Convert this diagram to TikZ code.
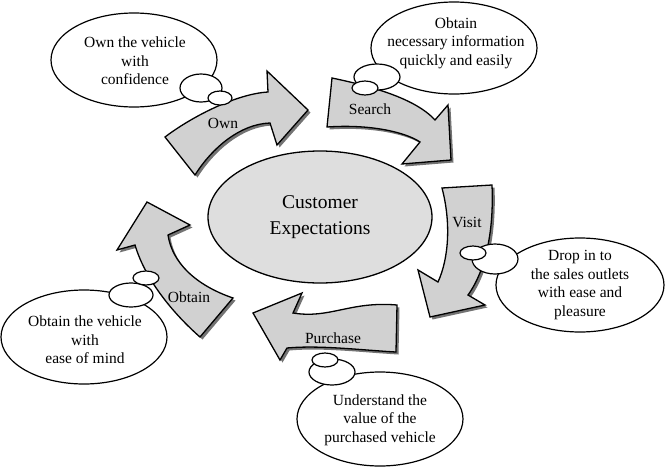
\documentclass[tikz,border=0pt]{standalone}
\usepackage{fontspec}
\setmainfont{Liberation Serif}
\usepackage{tikz}
\usetikzlibrary{shapes.geometric, shadows}
\definecolor{arrowgray}{gray}{0.82}
\definecolor{hubgray}{gray}{0.87}
\definecolor{shadowgray}{gray}{0.45}

\begin{document}
\begin{tikzpicture}[x=1pt, y=-1pt,
    bubble/.style={draw, line width=1.2pt, fill=white},
    bubtext/.style={align=center, inner sep=0pt, font=\fontsize{15.5}{18.5}\selectfont},
    flow/.style={draw, line width=1.3pt, fill=arrowgray, line join=miter,
                 drop shadow={shadow xshift=2.5pt, shadow yshift=-2.5pt,
                              fill=shadowgray, opacity=1}},
    lbl/.style={inner sep=0pt, font=\fontsize{15.5}{17}\selectfont}]
  \useasboundingbox (0,0) rectangle (665,469);

  % Own arrow (bottom left to top)
  \path[flow] (165,137) .. controls (190,118) and (235,94) .. (268,92)
    -- (267,71) -- (308,110) -- (277,145) -- (270,123)
    .. controls (240,124) and (212,148) .. (195,175) -- cycle;
  % Search arrow
  \path[flow] (332,78) .. controls (370,86) and (415,98) .. (435,120)
    -- (448,105) -- (451,160) -- (402,164) -- (420,142)
    .. controls (405,132) and (370,124) .. (327,127) -- cycle;
  % Visit arrow
  \path[flow] (442,188) -- (492,185)
    .. controls (494,230) and (486,270) .. (468,295)
    -- (485,305) -- (430,317) -- (418,270) -- (438,282)
    .. controls (449,258) and (451,222) .. (442,188) -- cycle;
  % Purchase arrow
  \path[flow] (397,305) .. controls (350,301) and (330,319) .. (293,313)
    -- (302,293) -- (253,313) -- (280,360) -- (287,348)
    .. controls (320,345) and (360,350) .. (396,352) -- cycle;
  % Obtain arrow
  \path[flow] (200,337) .. controls (176,316) and (146,282) .. (135,245)
    -- (117,250) -- (147,202) -- (190,225) -- (168,235)
    .. controls (172,262) and (195,285) .. (233,298) -- cycle;

  % Arrow labels
  \node[lbl] (ownlbl) at (223,123) {Own};
  \node[lbl] (searchlbl) at (370,109) {Search};
  \node[lbl] (visitlbl) at (467,222) {Visit};
  \node[lbl] (purchaselbl) at (333,338) {Purchase};
  \node[lbl] (obtainlbl) at (189,297) {Obtain};

  % Centre
  \node[draw, ellipse, line width=1.3pt, fill=hubgray, minimum width=224pt,
        minimum height=132pt, align=center,
        font=\fontsize{19.5}{26}\selectfont] (hub) at (320,217)
        {Customer\\Expectations};

  % Thought bubbles
  \draw[bubble] (134,60) ellipse [x radius=83, y radius=47];
  \draw[bubble] (201,88) ellipse [x radius=21, y radius=14];
  \draw[bubble] (220,98) ellipse [x radius=12, y radius=7];
  \node[bubtext] (own) at (135,61) {Own the vehicle\\with\\confidence};

  \draw[bubble] (454,48) ellipse [x radius=83, y radius=46];
  \draw[bubble] (377,77) ellipse [x radius=23, y radius=13];
  \draw[bubble] (365,88) ellipse [x radius=13, y radius=7];
  \node[bubtext] (search) at (456,43) {Obtain\\necessary information\\quickly and easily};

  \draw[bubble] (580,285) ellipse [x radius=84, y radius=47];
  \draw[bubble] (495,259) ellipse [x radius=23, y radius=15];
  \draw[bubble] (473,253) ellipse [x radius=13, y radius=7];
  \node[bubtext] (visit) at (580,285) {Drop in to\\the sales outlets\\with ease and\\pleasure};

  \draw[bubble] (380,419) ellipse [x radius=83, y radius=47];
  \draw[bubble] (332,372) ellipse [x radius=23, y radius=13];
  \draw[bubble] (325,360) ellipse [x radius=13, y radius=7];
  \node[bubtext] (purchase) at (380,420) {Understand the\\value of the\\purchased vehicle};

  \draw[bubble] (84,337) ellipse [x radius=83, y radius=47];
  \draw[bubble] (131,295) ellipse [x radius=22, y radius=12];
  \draw[bubble] (146,278) ellipse [x radius=13, y radius=7];
  \node[bubtext] (obtain) at (85,340) {Obtain the vehicle\\with\\ease of mind};
\end{tikzpicture}
\end{document}
